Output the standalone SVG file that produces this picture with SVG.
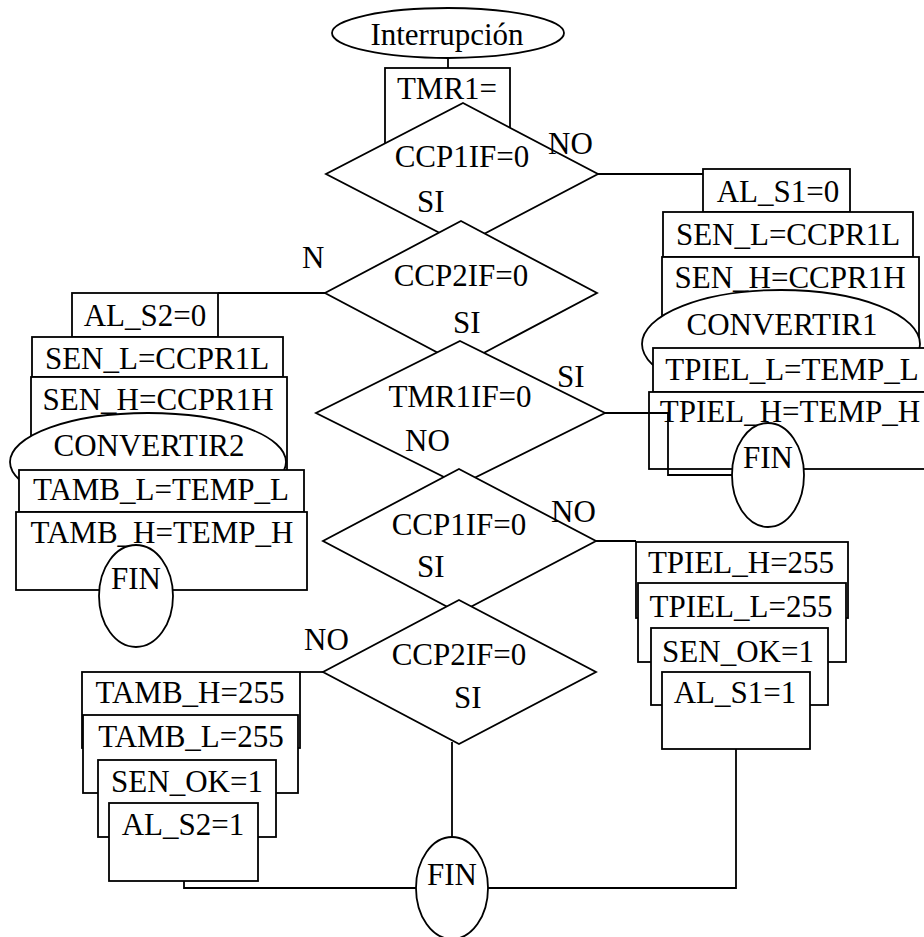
<svg xmlns="http://www.w3.org/2000/svg" width="924" height="937" viewBox="0 0 924 937">
<style>
  .s { fill: #fff; stroke: #000; stroke-width: 1.8; }
  .c { fill: none; stroke: #000; stroke-width: 1.8; }
  text { font-family: "Liberation Serif", "Times New Roman", serif; font-size: 31px; fill: #000; }
  .m { text-anchor: middle; }
</style>
<rect width="924" height="937" fill="#fff"/>

<g id="connectors">
  <line class="c" x1="448" y1="58" x2="448" y2="68"/>
  <polyline class="c" points="598,174 703,174"/>
  <polyline class="c" points="325,293 218,293"/>
  <polyline class="c" points="596,541 636,541"/>
  <polyline class="c" points="323,672 300,672"/>
  <polyline class="c" points="452,742 452,837"/>
  <polyline class="c" points="736,749 736,888 488,888"/>
  <polyline class="c" points="416,888 184,888 184,881"/>
</g>

<g id="start">
  <ellipse class="s" cx="448" cy="33" rx="116" ry="25"/>
  <text class="m" x="447" y="45">Interrupción</text>
</g>
<g id="tmr1">
  <rect class="s" x="385" y="68" width="125" height="112"/>
  <text class="m" x="447" y="99">TMR1=</text>
</g>
<g id="d1">
  <polygon class="s" points="463,103 598,174 463,245 326,174"/>
  <text class="m" x="462" y="167">CCP1IF=0</text>
  <text x="548" y="154">NO</text>
  <text x="417" y="212">SI</text>
</g>
<g id="d2">
  <polygon class="s" points="461,221 597,293 461,365 325,293"/>
  <text class="m" x="461" y="286">CCP2IF=0</text>
  <text x="302" y="268">N</text>
  <text x="453" y="333">SI</text>
</g>
<g id="d3">
  <polygon class="s" points="460,341 605,413 460,485 316,413"/>
  <text class="m" x="460" y="407">TMR1IF=0</text>
  <text x="557" y="387">SI</text>
  <text x="405" y="451">NO</text>
</g>
<g id="d4">
  <polygon class="s" points="459,469 596,541 459,613 323,541"/>
  <text class="m" x="459" y="535">CCP1IF=0</text>
  <text x="551" y="522">NO</text>
  <text x="417" y="577">SI</text>
</g>
<g id="d5">
  <polygon class="s" points="459,600 596,672 459,744 323,672"/>
  <text class="m" x="459" y="665">CCP2IF=0</text>
  <text x="304" y="650">NO</text>
  <text x="454" y="708">SI</text>
</g>

<g id="right-stack">
  <g id="al_s1_0"><rect class="s" x="703" y="169" width="147" height="43"/><text class="m" x="778" y="202">AL_S1=0</text></g>
  <g id="sen_l_r"><rect class="s" x="663" y="212" width="250" height="45"/><text class="m" x="788" y="245">SEN_L=CCPR1L</text></g>
  <g id="sen_h_r"><rect class="s" x="662" y="257" width="257" height="100"/><text class="m" x="790" y="288">SEN_H=CCPR1H</text></g>
  <g id="conv1"><ellipse class="s" cx="781" cy="344" rx="139" ry="54"/><text class="m" x="782" y="335">CONVERTIR1</text></g>
  <g id="tpiel_l"><rect class="s" x="653" y="348" width="280" height="44"/><text class="m" x="792" y="380">TPIEL_L=TEMP_L</text></g>
  <g id="tpiel_h"><rect class="s" x="649" y="392" width="284" height="77"/><text class="m" x="790" y="422">TPIEL_H=TEMP_H</text></g>
</g>

<g id="connector-tmr1if">
  <polyline class="c" points="605,413 668,413 668,475 734,475"/>
</g>

<g id="fin1"><ellipse class="s" cx="768" cy="475" rx="36" ry="52"/><text class="m" x="768" y="468">FIN</text></g>

<g id="left-stack">
  <g id="al_s2_0"><rect class="s" x="72" y="293" width="146" height="44"/><text class="m" x="145" y="326">AL_S2=0</text></g>
  <g id="sen_l_l"><rect class="s" x="32" y="337" width="251" height="40"/><text class="m" x="157" y="369">SEN_L=CCPR1L</text></g>
  <g id="sen_h_l"><rect class="s" x="31" y="377" width="256" height="100"/><text class="m" x="158" y="410">SEN_H=CCPR1H</text></g>
  <g id="conv2"><ellipse class="s" cx="148" cy="462" rx="138" ry="49"/><text class="m" x="149" y="456">CONVERTIR2</text></g>
  <g id="tamb_l"><rect class="s" x="19" y="470" width="285" height="42"/><text class="m" x="161" y="500">TAMB_L=TEMP_L</text></g>
  <g id="tamb_h"><rect class="s" x="16" y="512" width="291" height="78"/><text class="m" x="162" y="543">TAMB_H=TEMP_H</text></g>
  <g id="fin2"><ellipse class="s" cx="136" cy="596" rx="37" ry="51"/><text class="m" x="136" y="589">FIN</text></g>
</g>

<g id="right-lower">
  <g id="tpiel_h255"><rect class="s" x="636" y="542" width="212" height="76"/><text class="m" x="741" y="573">TPIEL_H=255</text></g>
  <g id="tpiel_l255"><rect class="s" x="638" y="583" width="208" height="79"/><text class="m" x="741" y="617">TPIEL_L=255</text></g>
  <g id="sen_ok_r"><rect class="s" x="651" y="628" width="177" height="77"/><text class="m" x="738" y="662">SEN_OK=1</text></g>
  <g id="al_s1_1"><rect class="s" x="662" y="672" width="148" height="77"/><text class="m" x="735" y="703">AL_S1=1</text></g>
</g>

<g id="left-lower">
  <g id="tamb_h255"><rect class="s" x="82" y="672" width="218" height="76"/><text class="m" x="190" y="703">TAMB_H=255</text></g>
  <g id="tamb_l255"><rect class="s" x="83" y="715" width="215" height="78"/><text class="m" x="191" y="747">TAMB_L=255</text></g>
  <g id="sen_ok_l"><rect class="s" x="98" y="760" width="178" height="77"/><text class="m" x="187" y="792">SEN_OK=1</text></g>
  <g id="al_s2_1"><rect class="s" x="109" y="803" width="149" height="78"/><text class="m" x="183" y="835">AL_S2=1</text></g>
</g>

<g id="fin3">
  <ellipse class="s" cx="452" cy="888" rx="36" ry="51"/>
  <text class="m" x="452" y="885">FIN</text>
</g>
</svg>
